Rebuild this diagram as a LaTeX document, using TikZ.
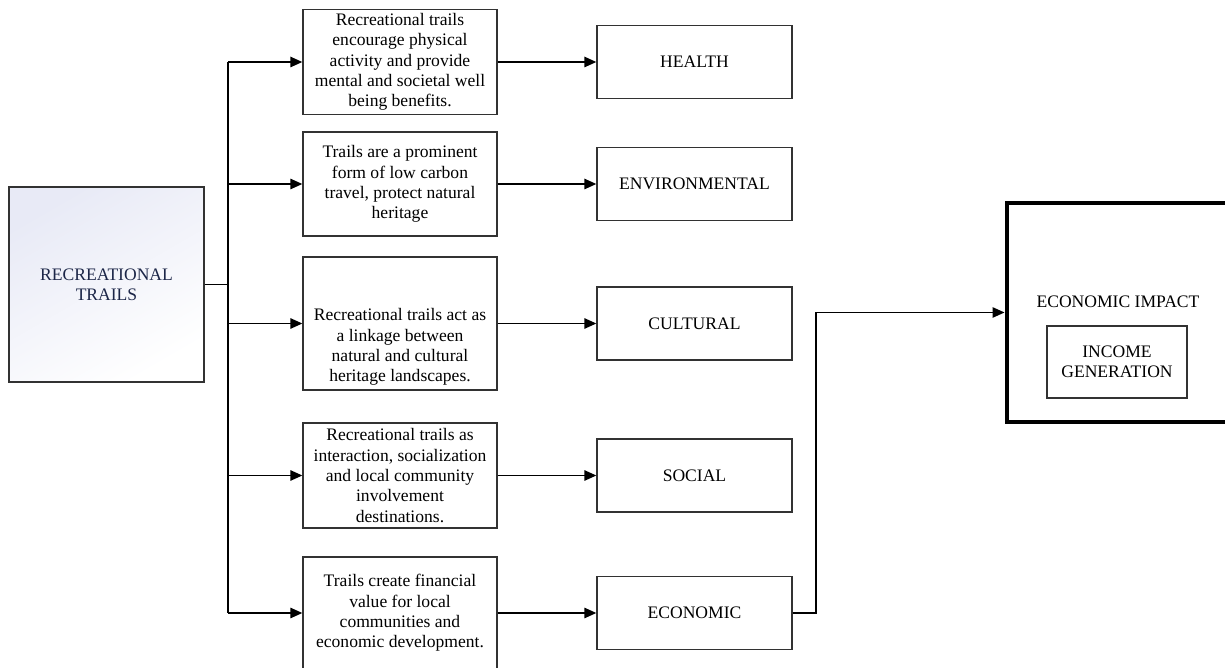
\documentclass[tikz,border=0pt]{standalone}
\usepackage{fontspec}
\setmainfont{Liberation Serif}
\usepackage{tikz}
\usetikzlibrary{shapes,arrows.meta,calc}
\definecolor{navytext}{RGB}{28,38,72}
\definecolor{boxgray}{RGB}{50,50,50}
\definecolor{shadeblue}{RGB}{232,234,246}
\tikzstyle{arrow} = [draw, line width=1.1pt, -{Triangle[length=6.8pt, width=5.8pt]}]
\tikzstyle{line} = [draw, line width=1.1pt]
\tikzstyle{desc} = [draw=boxgray, line width=0.7pt, minimum width=3.88cm, align=center, inner sep=1pt]
\tikzstyle{tag} = [draw=boxgray, line width=0.7pt, minimum width=3.9cm, minimum height=1.46cm]

\begin{document}
\begin{tikzpicture}[x=0.02cm, y=-0.02cm, font=\fontsize{10}{11.6}\selectfont]
      \useasboundingbox (0,0) rectangle (1225,668);

      % source
      \node (rec) at (106.5, 284.5) [draw=boxgray, line width=0.7pt, minimum width=3.9cm, minimum height=3.9cm,
        top color=shadeblue, bottom color=white, shading angle=30, text=navytext, align=center] {RECREATIONAL\\TRAILS};

      % descriptions
      \node (d1) at (400, 62) [desc, minimum height=2.1cm] {Recreational trails\\encourage physical\\activity and provide\\mental and societal well\\being benefits.};
      \node (d2) at (400, 184) [desc, minimum height=2.08cm] {Trails are a prominent\\form of low carbon\\travel, protect natural\\heritage};
      \node (d3) at (400, 323.5) [desc, minimum height=2.66cm] {};
      \node (d3txt) at (400, 347) [align=center] {Recreational trails act as\\a linkage between\\natural and cultural\\heritage landscapes.};
      \node (d4) at (400, 475.5) [desc, minimum height=2.1cm] {Recreational trails as\\interaction, socialization\\and local community\\involvement\\destinations.};
      \node (d5) at (400, 613) [desc, minimum height=2.24cm] {Trails create financial\\value for local\\communities and\\economic development.};

      % impacts
      \node (health) at (694.5, 62) [tag] {HEALTH};
      \node (env) at (694.5, 184) [tag] {ENVIRONMENTAL};
      \node (cult) at (694.5, 323.5) [tag] {CULTURAL};
      \node (soc) at (694.5, 475.5) [tag] {SOCIAL};
      \node (econ) at (694.5, 613) [tag] {ECONOMIC};

      \node (impact) at (1118, 312.5) [draw, line width=2.8pt, minimum width=4.44cm, minimum height=4.38cm] {};
      \node (impacttxt) at (1118, 302) {ECONOMIC IMPACT};
      \node (income) at (1117, 362) [draw=boxgray, line width=0.8pt, minimum width=2.8cm, minimum height=1.44cm, align=center] {INCOME\\GENERATION};

      % connectors
      \coordinate (split) at (228, 284.5);
      \draw[line] (rec.east) -- (split);
      \draw[line] (d1.west -| split) -- (d5.west -| split);
      \foreach \d in {d1,d2,d3,d4,d5}
        \draw[arrow] (\d.west -| split) -- (\d.west);
      \draw[arrow] (d1) -- (health);
      \draw[arrow] (d2) -- (env);
      \draw[arrow] (d3) -- (cult);
      \draw[arrow] (d4) -- (soc);
      \draw[arrow] (d5) -- (econ);
      \draw[arrow] (econ.east) -- ++(23, 0) |- (impact.west);
    \end{tikzpicture}
\end{document}
